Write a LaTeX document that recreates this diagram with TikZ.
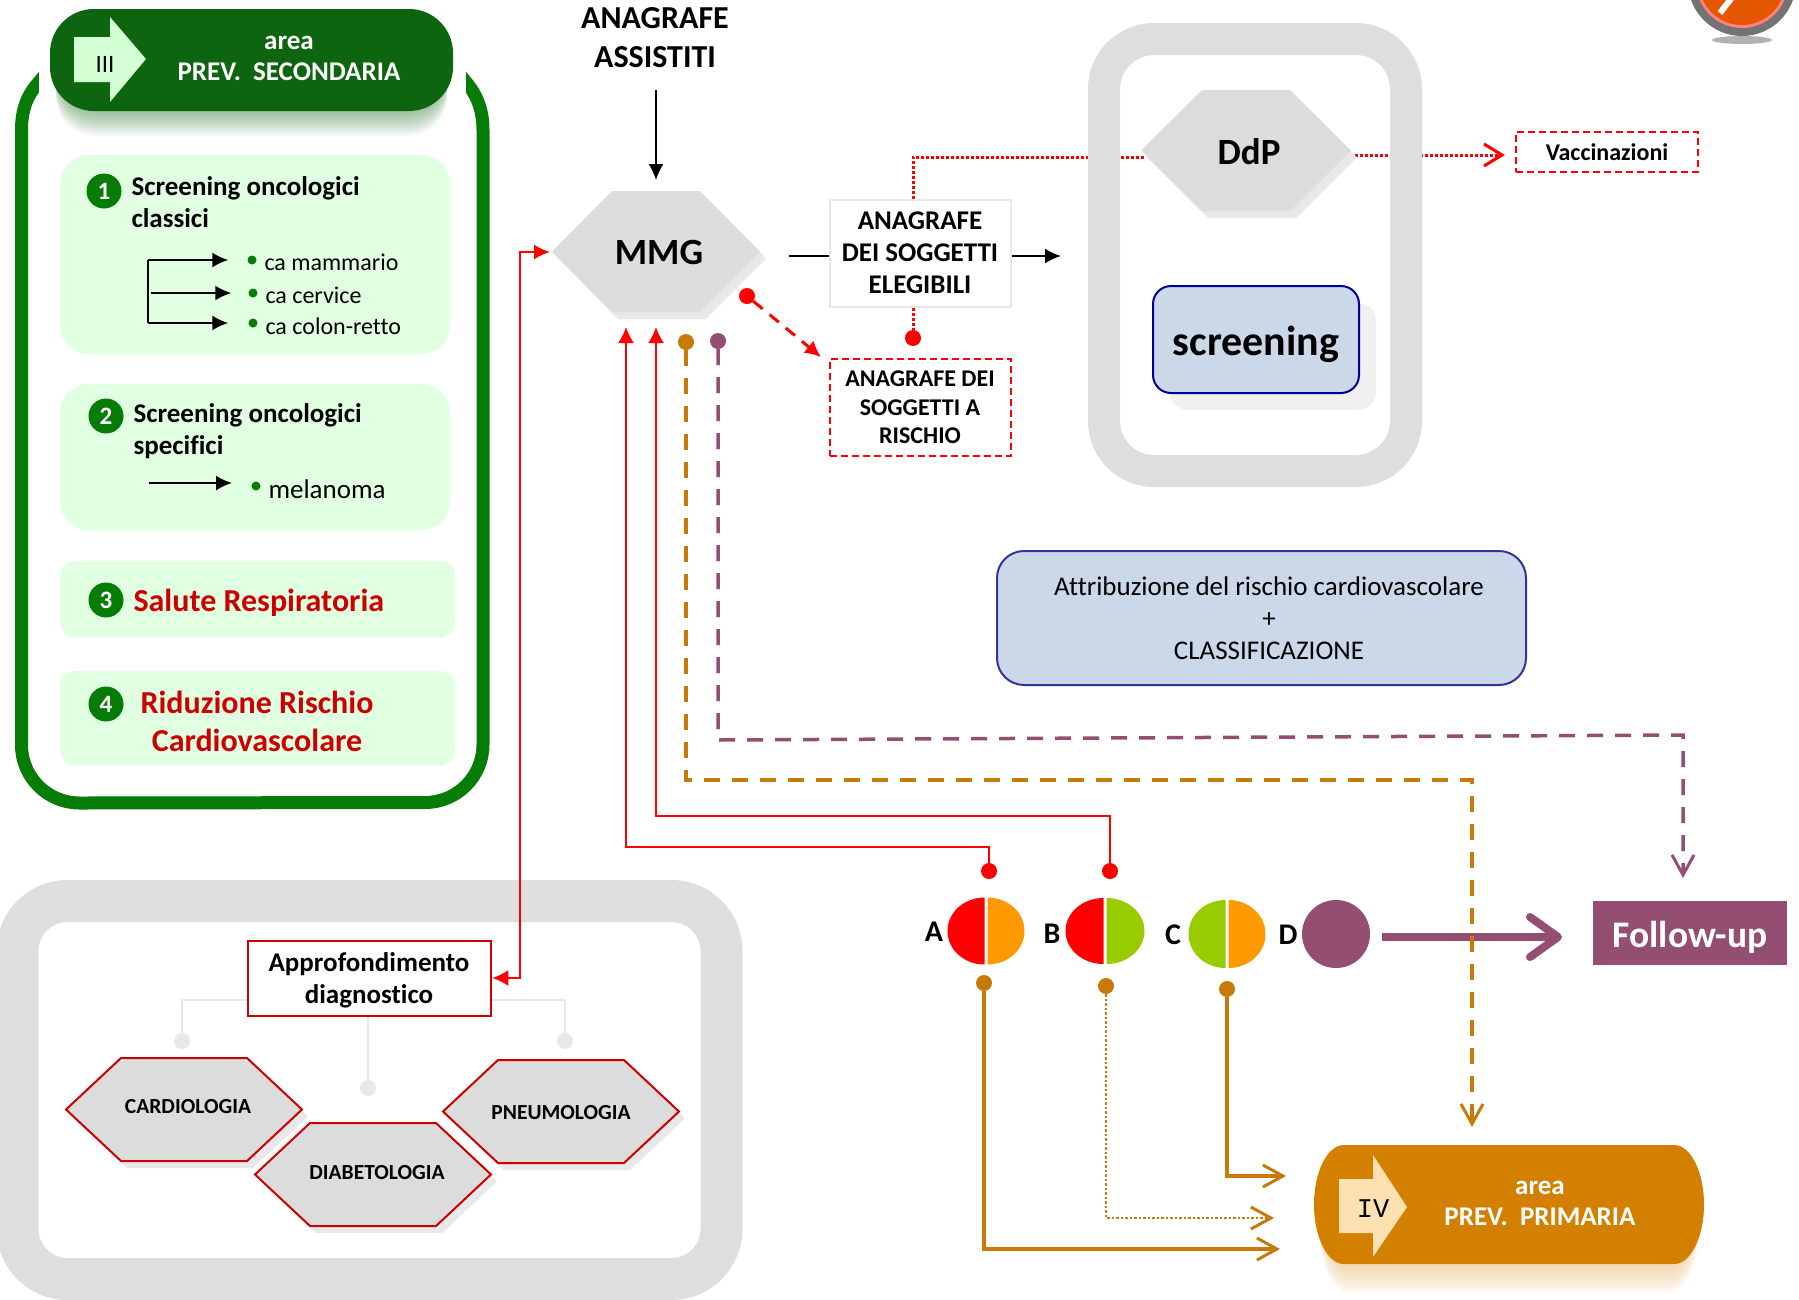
\documentclass[tikz,border=0pt]{standalone}
\usepackage{fontspec}
\setmainfont{Carlito}[Ligatures=CommonOff]
\newfontfamily\romanmono{Liberation Mono}
\usetikzlibrary{arrows.meta,shadows}

\definecolor{framegrey}{HTML}{DEDEDE}
\definecolor{hexgrey}{HTML}{DCDCDC}
\definecolor{hexshade}{HTML}{E8E8E8}
\definecolor{darkgreen}{HTML}{0D650F}
\definecolor{rimgreen}{HTML}{067C06}
\definecolor{palegreen}{HTML}{E1FFE1}
\definecolor{arrowgreen}{HTML}{D5FFD5}
\definecolor{deepred}{HTML}{CC0000}
\definecolor{paleblue}{HTML}{CBD8EA}
\definecolor{ochre}{HTML}{C77A08}
\definecolor{amber}{HTML}{D38000}
\definecolor{paleamber}{HTML}{FFE0B0}
\definecolor{plum}{HTML}{944E72}
\definecolor{riskorange}{HTML}{FF9900}
\definecolor{riskgreen}{HTML}{99CC00}

\newcommand{\fs}[2]{\fontsize{#1}{#2}\selectfont}
\newcommand{\hexbody}[7]{
  \fill[hexshade, shift={(6pt,-7pt)}] (#2-#4,#3) -- (#2-#4+#6,#3-#5) -- (#2+#4-#6,#3-#5) -- (#2+#4,#3) -- (#2+#4-#6,#3+#5) -- (#2-#4+#6,#3+#5) -- cycle;
  \path[fill=hexgrey, #7] (#2-#4,#3) -- (#2-#4+#6,#3-#5) -- (#2+#4-#6,#3-#5) -- (#2+#4,#3) -- (#2+#4-#6,#3+#5) -- (#2-#4+#6,#3+#5) -- cycle;
  \coordinate (#1) at (#2,#3);
}

\tikzset{
  greenbox/.style={fill=palegreen, rounded corners=28pt},
  numdot/.style={circle, fill=rimgreen, text=white, inner sep=0pt, minimum size=35pt, font=\fs{25}{25}\bfseries},
  bulletdot/.style={circle, fill=rimgreen, inner sep=0pt, minimum size=9pt},
  dotmark/.style={circle, inner sep=0pt, minimum size=16pt, fill=#1},
  flow/.style={line width=2pt, -{Latex[length=16pt,width=15pt]}},
  redflow/.style={red, line width=2pt, -{Latex[length=16pt,width=16pt]}},
  barb/.style={-{Straight Barb[length=20pt,width=22pt,line width=3pt]}}
}

\begin{document}
\begin{tikzpicture}[x=1pt, y=-1pt, line cap=butt]
  \clip (0,0) rectangle (1799,1299);

  % green frame and header
  \draw[rimgreen, line width=13pt] (52,66) -- (39,82) .. controls (27,95) and (21.5,110) .. (21.5,130) -- (21.5,745)
    arc[start angle=180, end angle=270, radius=58pt] -- (425,802.5)
    arc[start angle=270, end angle=360, radius=58pt] -- (483,130) .. controls (483,110) and (477,95) .. (466,82) -- (453,66);
  \fill[white] (39,0) rectangle (466,135);
  \foreach \s in {2,4,...,26}
    \fill[darkgreen, opacity=.035, rounded corners=40pt] (56,{16+\s}) rectangle (447,{110+\s});
  \node[fill=darkgreen, rounded corners=44pt, minimum width=403pt, minimum height=102pt, inner sep=0pt] (areasec) at (251.5,60) {};
  \fill[arrowgreen] (74,37) -- (110,37) -- (110,17) -- (146,59) -- (110,102) -- (110,82) -- (74,82) -- cycle;
  \node[font=\fs{25}{25}] (numiii) at (105,64) {III};
  \node[text=white, align=center, font=\fs{27}{31}\bfseries] (areasectxt) at (289,58) {area\\PREV.\ \ SECONDARIA};

  % boxes of the area
  \fill[greenbox] (60,155) rectangle (450,354);
  \fill[greenbox] (60,384) rectangle (450,530);
  \fill[palegreen, rounded corners=14pt] (60,561) rectangle (455,637);
  \fill[palegreen, rounded corners=14pt] (60,671) rectangle (455,765);
  \node[numdot] (numa) at (104,191) {1};
  \node[numdot] (numb) at (106,416) {2};
  \node[numdot] (numc) at (106,600) {3};
  \node[numdot] (numd) at (106,704) {4};
  \node[anchor=west, align=left, font=\fs{27}{32}\bfseries] (classici) at (128,202) {Screening oncologici\\classici};
  \node[anchor=west, align=left, font=\fs{27}{32}\bfseries] (specifici) at (130,431) {Screening oncologici\\specifici};
  \node[anchor=west, text=deepred, font=\fs{32}{32}\bfseries] (salute) at (130,603) {Salute Respiratoria};
  \node[text=deepred, align=center, font=\fs{32}{38}\bfseries] (riduzione) at (257,721) {Riduzione Rischio\\Cardiovascolare};

  \node[bulletdot] (bula) at (252,260) {};
  \node[bulletdot] (bulb) at (253,293) {};
  \node[bulletdot] (bulc) at (253,323) {};
  \node[bulletdot] (buld) at (256,486) {};
  \node[anchor=west, font=\fs{24}{24}] (mammario) at (261,262) {ca mammario};
  \node[anchor=west, font=\fs{24}{24}] (cervice) at (262,295) {ca cervice};
  \node[anchor=west, font=\fs{24}{24}] (colon) at (262,326) {ca colon-retto};
  \node[anchor=west, font=\fs{27}{27}] (melanoma) at (265,489) {melanoma};
  \coordinate (forka) at (148,260);
  \coordinate (forkb) at (148,323);
  \coordinate (forkc) at (151,293);
  \coordinate (forkd) at (149,483);
  \coordinate (tipd) at (232,483);
  \draw[line width=2pt] (forka) -- (forkb);
  \draw[flow, shorten >=19pt] (forka) -- (bula);
  \draw[flow, shorten >=17pt] (forkc) -- (bulb);
  \draw[flow, shorten >=20pt] (forkb) -- (bulc);
  \draw[flow] (forkd) -- (tipd);

  % top centre
  \node[align=center, font=\fs{32}{39}\bfseries] (assistiti) at (655,38) {ANAGRAFE\\ASSISTITI};
  \hexbody{mmg}{656}{251.5}{104}{60.5}{60}{}
  \node[font=\fs{37}{37}\bfseries] (mmgtxt) at (659,252) {MMG};
  \coordinate (assistitiend) at (656,90);
  \coordinate (mmgtop) at (656,180);
  \draw[flow, line width=1.5pt] (assistitiend) -- (mmgtop);

  \node[draw=hexshade, line width=2pt, fill=white, align=center, minimum width=181pt, minimum height=107pt, inner sep=0pt,
    font=\fs{27}{32}\bfseries] (elegibili) at (920,253) {ANAGRAFE\\DEI SOGGETTI\\ELEGIBILI};
  \node[draw=red, dashed, line width=2pt, dash pattern=on 7pt off 4pt, align=center, minimum width=181pt, minimum height=97pt, inner sep=0pt,
    font=\fs{24}{28.5}\bfseries] (rischio) at (920,407.5) {ANAGRAFE DEI\\SOGGETTI A\\RISCHIO};
  \coordinate (mmgout) at (789,256);
  \coordinate (frameinl) at (1061,256);
  \draw[line width=2pt] (mmgout) -- (elegibili.west |- mmgout);
  \draw[flow] (elegibili.east |- mmgout) -- (frameinl);

  \node[dotmark=red] (dotelig) at (913,338) {};
  \draw[red, line width=3pt, dotted] (elegibili.south -| dotelig) -- (dotelig);
  \node[dotmark=red] (dotrisk) at (747,296) {};
  \coordinate (risktip) at (821,357);
  \draw[redflow, line width=3pt, dash pattern=on 12pt off 9pt] (dotrisk) -- (risktip);

  % DdP frame, dotted line runs behind it
  \node[draw=red, line width=2pt, dash pattern=on 7pt off 4pt, minimum width=182pt, minimum height=40pt, inner sep=0pt,
    font=\fs{24}{24}\bfseries] (vaccini) at (1607,152) {Vaccinazioni};
  \coordinate (ddpin) at (1145,157);
  \coordinate (ddpout) at (1355,155);
  \coordinate (vaccinitip) at (1502,155);
  \coordinate (eligtop) at (913,199);
  \draw[red, line width=3pt, dotted] (eligtop) |- (ddpin);
  \draw[red, line width=3pt, dotted] (ddpout) -- (vaccinitip);
  \draw[red, line width=3pt] (vaccinitip) ++(-18,-11) -- (vaccinitip) -- ++(-18,11);
  \node[draw=framegrey, line width=32pt, rounded corners=50pt, minimum width=302pt, minimum height=432pt, inner sep=0pt] (ddpframe) at (1255,255) {};
  \hexbody{ddp}{1246}{150.5}{105}{60.5}{61}{}
  \node[font=\fs{37}{37}\bfseries] (ddptxt) at (1249,152) {DdP};
  \node[draw=blue!60!black, line width=2pt, fill=paleblue, rounded corners=18pt, minimum width=206pt, minimum height=107pt, inner sep=0pt,
    drop shadow={shadow xshift=17pt, shadow yshift=-17pt, opacity=1, fill=black!6}] (screening) at (1256,339.5) {};
  \node[font=\fs{42}{42}\bfseries] (screeningtxt) at (1256,344) {screening};

  \node[draw=blue!50!black!80, line width=2pt, fill=paleblue, rounded corners=27pt, minimum width=529pt, minimum height=134pt, inner sep=0pt] (rischiocv) at (1261.5,618) {};
  \node[align=center, font=\fs{27}{32}] (rischiotxt) at (1269,618) {Attribuzione del rischio cardiovascolare\\+\\CLASSIFICAZIONE};

  % bottom left frame
  \node[draw=framegrey, line width=42pt, rounded corners=50pt, minimum width=704pt, minimum height=378pt, inner sep=0pt] (diagframe) at (369.5,1090) {};
  \node[draw=deepred, line width=2.5pt, minimum width=243pt, minimum height=75pt, inner sep=0pt] (appro) at (369.5,978.5) {};
  \node[align=center, font=\fs{27}{32}\bfseries] (approtxt) at (369,980.5) {Approfondimento\\diagnostico};
  \node[dotmark=hexshade] (dotcard) at (182,1041) {};
  \node[dotmark=hexshade] (dotdiab) at (368,1088) {};
  \node[dotmark=hexshade] (dotpneu) at (565,1041) {};
  \draw[hexshade, line width=2pt] (appro.west |- 0,1000) -| (dotcard);
  \draw[hexshade, line width=2pt] (appro.east |- 0,1000) -| (dotpneu);
  \draw[hexshade, line width=2pt] (appro.south -| dotdiab) -- (dotdiab);
  \foreach \name/\hx/\hy/\tx/\ty/\word in {cardio/184/1109.5/188/1107/CARDIOLOGIA, pneumo/561/1111.5/561/1113/PNEUMOLOGIA, diabeto/373/1174.5/377/1173/DIABETOLOGIA}{
    \hexbody{\name}{\hx}{\hy}{118}{51.5}{55}{draw=deepred, line width=2pt}
    \node[font=\fs{21.5}{21.5}\bfseries] (\name txt) at (\tx,\ty) {\word};
  }

  \coordinate (mmgin) at (520,252);
  \coordinate (approin) at (520,978);
  \coordinate (mmgwest) at (550,252);
  \draw[red, line width=2pt, {Latex[length=16pt,width=16pt]}-{Latex[length=16pt,width=15pt]}] (appro.east |- approin) -- (approin) -- (mmgin) -- (mmgwest);

  % risk discs
  \foreach \name/\cx/\cy/\rx/\ry/\colleft/\colright in {a/986/931/37/33.5/red/riskorange, b/1105/931/38/33/red/riskgreen, c/1227/934/37/34/riskgreen/riskorange}{
    \fill[\colleft] (\cx-1.5,\cy-\ry) arc[start angle=90, end angle=270, x radius=\rx pt, y radius=\ry pt] -- cycle;
    \fill[\colright] (\cx+1.5,\cy-\ry) arc[start angle=90, end angle=-90, x radius=\rx pt, y radius=\ry pt] -- cycle;
    \coordinate (disc\name) at (\cx,\cy);
  }
  \node[circle, fill=plum, minimum size=68pt, inner sep=0pt] (discd) at (1336,934) {};
  \foreach \name/\letter/\lx/\ly in {a/A/934/932, b/B/1052/934, c/C/1173/935, d/D/1288/935}
    \node[font=\fs{30}{30}\bfseries] (letter\name) at (\lx,\ly) {\letter};

  \node[dotmark=red] (reda) at (989,871) {};
  \node[dotmark=red] (redb) at (1110,871) {};
  \node[dotmark=ochre] (ochrea) at (984,983) {};
  \node[dotmark=ochre] (ochreb) at (1106,986) {};
  \node[dotmark=ochre] (ochrec) at (1227,989) {};
  \node[dotmark=ochre] (ochremmg) at (686,342) {};
  \node[dotmark=plum] (plummmg) at (718,341) {};

  \coordinate (mmga) at (626,327);
  \coordinate (mmgb) at (656,327);
  \draw[redflow] (reda) -- ++(0,-24) -| (mmga);
  \draw[redflow] (redb) -- ++(0,-55) -| (mmgb);

  % follow-up
  \node[fill=plum, minimum width=194pt, minimum height=64pt, inner sep=0pt] (followup) at (1690,933) {};
  \node[text=white, font=\fs{37.5}{37.5}\bfseries] (followtxt) at (1690,937) {Follow-up};
  \coordinate (followa) at (1382,937);
  \coordinate (followb) at (1562,937);
  \draw[plum, line width=8pt, -{Straight Barb[round,length=28pt,width=40pt,line width=8pt]}] (followa) -- (followb);

  % area primaria
  \foreach \s in {3,6,...,30}
    \fill[amber, opacity=.035] (1350,{1145+\s}) -- (1668,{1145+\s}) arc[start angle=90, end angle=-90, x radius=30pt, y radius=59.5pt]
      -- (1350,{1264+\s}) arc[start angle=270, end angle=90, x radius=30pt, y radius=59.5pt] -- cycle;
  \fill[amber] (1344,1145) -- (1674,1145) arc[start angle=90, end angle=-90, x radius=30pt, y radius=59.5pt]
    -- (1344,1264) arc[start angle=270, end angle=90, x radius=30pt, y radius=59.5pt] -- cycle;
  \fill[paleamber] (1339,1179) -- (1373,1179) -- (1373,1155) -- (1407,1207) -- (1373,1257) -- (1373,1233) -- (1339,1233) -- cycle;
  \node[font=\romanmono\fs{27}{27}] (numiv) at (1373,1209) {IV};
  \node[text=white, align=center, font=\fs{27}{31}\bfseries] (areapri) at (1540,1203) {area\\PREV.\ \ PRIMARIA};

  \coordinate (primax) at (1286,1176);
  \coordinate (primbx) at (1274,1218);
  \coordinate (primcx) at (1280,1249);
  \draw[ochre, line width=3.5pt, barb] (ochrec) |- (primax);
  \draw[ochre, line width=2.5pt, dotted, barb] (ochreb) |- (primbx);
  \draw[ochre, line width=3.5pt, barb] (ochrea) |- (primcx);

  % dashed lines from MMG
  \coordinate (dasha) at (686,780);
  \coordinate (dashb) at (1472,780);
  \coordinate (dashc) at (1472,1127);
  \coordinate (dashd) at (718,740);
  \coordinate (dashe) at (1683,735);
  \coordinate (dashf) at (1683,878);
  \draw[ochre, line width=3.5pt, dash pattern=on 16pt off 12pt, barb] (ochremmg) -- (dasha) -- (dashb) -- (dashc);
  \draw[plum, line width=3.5pt, dash pattern=on 16pt off 12pt, barb] (plummmg) -- (dashd) -- (dashe) -- (dashf);

  % badge at the top right
  \fill[black!30] (1742,40) ellipse [x radius=30pt, y radius=4pt];
  \node[circle, fill=black!55, minimum size=108pt, inner sep=0pt] (badge) at (1742,-18) {};
  \node[circle, fill=red!50!white, minimum size=92pt, inner sep=0pt] (badgerim) at (1742,-18) {};
  \node[circle, fill=orange!75!red!90!black, minimum size=86pt, inner sep=0pt] (badgecore) at (1742,-18) {};
  \draw[white, line width=6pt] (1720,13) -- (1733,-4);
\end{tikzpicture}
\end{document}
